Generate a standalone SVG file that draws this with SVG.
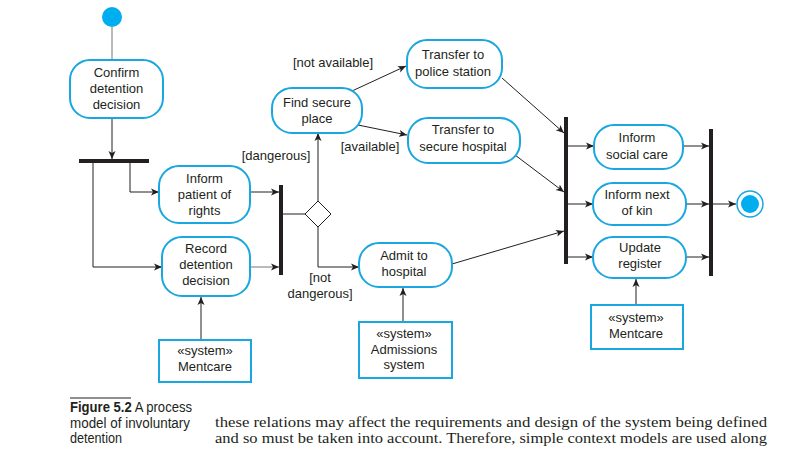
<svg xmlns="http://www.w3.org/2000/svg" width="797" height="458" viewBox="0 0 797 458">
<defs>
<marker id="ah" markerUnits="userSpaceOnUse" markerWidth="10" markerHeight="8" refX="8" refY="4" orient="auto">
<path d="M0,0.5 L8,4 L0,7.5 L2,4 z" fill="#231f20"/>
</marker>
<style>
.act{fill:#fff;stroke:#1aa6e0;stroke-width:2}
.sys{fill:#fff;stroke:#1aa6e0;stroke-width:2}
.bar{fill:#231f20}
.t{font-family:"Liberation Sans",Arial,sans-serif;font-size:13px;fill:#231f20;text-anchor:middle}
.l{fill:none;stroke:#231f20;stroke-width:1}
.a{fill:none;stroke:#231f20;stroke-width:1;marker-end:url(#ah)}
.g{stroke:#777}
.cap{font-family:"Liberation Sans",Arial,sans-serif;font-size:14px;fill:#231f20}
.body{font-family:"Liberation Serif","Times New Roman",serif;font-size:15.5px;fill:#231f20}
</style>
</defs>
<rect width="797" height="458" fill="#fff"/>

<g id="connectors">
<line class="l g" x1="112" y1="27" x2="112" y2="60"/>
<line class="a" x1="112" y1="118" x2="112" y2="159"/>
<polyline class="a" points="130,163 130,192 159,192"/>
<polyline class="a" points="93,163 93,267 162,267"/>
<line class="a" x1="250" y1="192" x2="279" y2="192"/>
<line class="a g" x1="250" y1="267" x2="279" y2="267"/>
<line class="l" x1="283" y1="214" x2="305" y2="214"/>
<line class="a" x1="318" y1="201" x2="318" y2="133"/>
<polyline class="a" points="318,227 318,267 359,267"/>
<line class="a" x1="352" y1="91" x2="406" y2="66"/>
<line class="a" x1="358" y1="125" x2="407" y2="135"/>
<line class="a" x1="502" y1="78" x2="564" y2="133"/>
<line class="a" x1="515" y1="155" x2="564" y2="192"/>
<line class="a" x1="452" y1="264" x2="564" y2="231"/>
<line class="a" x1="568" y1="146" x2="594" y2="146"/>
<line class="a" x1="568" y1="204" x2="593" y2="204"/>
<line class="a" x1="568" y1="257" x2="593" y2="257"/>
<line class="a" x1="683" y1="146" x2="709" y2="146"/>
<line class="a" x1="686" y1="204" x2="709" y2="204"/>
<line class="a" x1="686" y1="257" x2="709" y2="257"/>
<line class="a" x1="713" y1="204" x2="736" y2="204"/>
<line class="a" x1="636" y1="305" x2="636" y2="279"/>
<line class="a" x1="403" y1="322" x2="403" y2="288"/>
<line class="a" x1="201" y1="340" x2="201" y2="297"/>
</g>

<g id="start"><circle cx="112" cy="17" r="10" fill="#00aeef"/></g>

<g id="fork1"><rect class="bar" x="79" y="159" width="70" height="4"/></g>
<g id="join1"><rect class="bar" x="279" y="185" width="4" height="90"/></g>
<g id="fork2"><rect class="bar" x="564" y="117" width="4" height="147"/></g>
<g id="join2"><rect class="bar" x="709" y="129" width="4" height="147"/></g>

<g id="decision"><polygon points="318,201 331,214 318,227 305,214" fill="#fff" stroke="#231f20" stroke-width="1"/></g>

<g id="confirm">
<rect class="act" x="70" y="60" width="93" height="58" rx="20"/>
<text class="t" x="116.5" y="77">Confirm</text>
<text class="t" x="116.5" y="93">detention</text>
<text class="t" x="116.5" y="109">decision</text>
</g>

<g id="inform-patient">
<rect class="act" x="159" y="166" width="91" height="57" rx="20"/>
<text class="t" x="204.5" y="183">Inform</text>
<text class="t" x="204.5" y="199">patient of</text>
<text class="t" x="204.5" y="215">rights</text>
</g>

<g id="record">
<rect class="act" x="162" y="237" width="88" height="59" rx="20"/>
<text class="t" x="206" y="253">Record</text>
<text class="t" x="206" y="269">detention</text>
<text class="t" x="206" y="285">decision</text>
</g>

<g id="find">
<rect class="act" x="272" y="88" width="90" height="45" rx="20"/>
<text class="t" x="317" y="107">Find secure</text>
<text class="t" x="317" y="123">place</text>
</g>

<g id="police">
<rect class="act" x="407" y="40" width="95" height="48" rx="20"/>
<text class="t" x="453" y="59">Transfer to</text>
<text class="t" x="453" y="76">police station</text>
</g>

<g id="secure-hospital">
<rect class="act" x="408" y="118" width="112" height="45" rx="20"/>
<text class="t" x="463" y="134">Transfer to</text>
<text class="t" x="463" y="151">secure hospital</text>
</g>

<g id="admit">
<rect class="act" x="359" y="243" width="93" height="44" rx="20"/>
<text class="t" x="404" y="260">Admit to</text>
<text class="t" x="404" y="276">hospital</text>
</g>

<g id="social">
<rect class="act" x="594" y="125" width="89" height="44" rx="20"/>
<text class="t" x="637" y="142">Inform</text>
<text class="t" x="637" y="159">social care</text>
</g>

<g id="kin">
<rect class="act" x="593" y="183" width="93" height="42" rx="20"/>
<text class="t" x="637" y="199">Inform next</text>
<text class="t" x="637" y="215">of kin</text>
</g>

<g id="update">
<rect class="act" x="593" y="237" width="93" height="41" rx="20"/>
<text class="t" x="640" y="252">Update</text>
<text class="t" x="640" y="268">register</text>
</g>

<g id="admissions-system">
<rect class="sys" x="359" y="322" width="93" height="56"/>
<text class="t" x="404" y="338">«system»</text>
<text class="t" x="404" y="354">Admissions</text>
<text class="t" x="404" y="369">system</text>
</g>

<g id="mentcare-right">
<rect class="sys" x="591" y="305" width="92" height="44"/>
<text class="t" x="636" y="322">«system»</text>
<text class="t" x="636" y="338">Mentcare</text>
</g>

<g id="mentcare-left">
<rect class="sys" x="159" y="340" width="92" height="42"/>
<text class="t" x="205" y="355">«system»</text>
<text class="t" x="205" y="371">Mentcare</text>
</g>

<g id="end">
<circle cx="750" cy="204" r="13" fill="#fff" stroke="#1aa6e0" stroke-width="1.5"/>
<circle cx="750" cy="204" r="9" fill="#00aeef"/>
</g>

<g id="guards">
<text class="t" x="276" y="160">[dangerous]</text>
<text class="t" x="320" y="282">[not</text>
<text class="t" x="320" y="298">dangerous]</text>
<text class="t" x="333" y="67">[not available]</text>
<text class="t" x="370" y="151">[available]</text>
</g>

<g id="caption">
<line x1="70" y1="398" x2="131" y2="398" stroke="#231f20" stroke-width="1"/>
<text class="cap" x="70" y="412" textLength="122" lengthAdjust="spacingAndGlyphs"><tspan font-weight="bold">Figure 5.2</tspan>  A process</text>
<text class="cap" x="70" y="428" textLength="120" lengthAdjust="spacingAndGlyphs">model of involuntary</text>
<text class="cap" x="70" y="443" textLength="52" lengthAdjust="spacingAndGlyphs">detention</text>
<text class="body" x="215" y="427" textLength="552" lengthAdjust="spacingAndGlyphs">these relations may affect the requirements and design of the system being defined</text>
<text class="body" x="215" y="443" textLength="552" lengthAdjust="spacingAndGlyphs">and so must be taken into account. Therefore, simple context models are used along</text>
</g>
</svg>
